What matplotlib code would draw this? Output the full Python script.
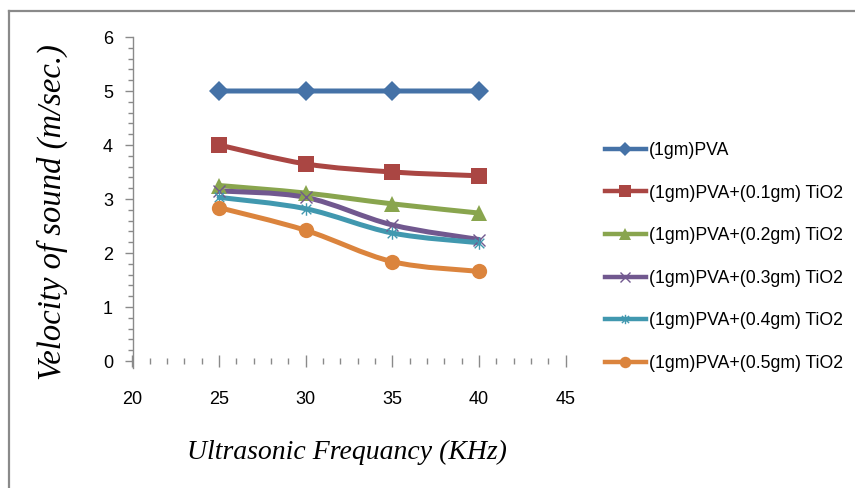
import matplotlib
matplotlib.use("Agg")
import matplotlib.pyplot as plt
from matplotlib.path import Path
from matplotlib.patches import PathPatch
from matplotlib.lines import Line2D
from matplotlib.ticker import MultipleLocator
import numpy as np

frequency = [25, 30, 35, 40]
pva = [5.0, 5.0, 5.0, 5.0]
tio2_01 = [4.0, 3.65, 3.5, 3.43]
tio2_02 = [3.25, 3.11, 2.91, 2.74]
tio2_03 = [3.15, 3.03, 2.52, 2.25]
tio2_04 = [3.03, 2.82, 2.37, 2.19]
tio2_05 = [2.84, 2.42, 1.84, 1.66]

labels = ["(1gm)PVA",
          "(1gm)PVA+(0.1gm) TiO2",
          "(1gm)PVA+(0.2gm) TiO2",
          "(1gm)PVA+(0.3gm) TiO2",
          "(1gm)PVA+(0.4gm) TiO2",
          "(1gm)PVA+(0.5gm) TiO2"]
series = [pva, tio2_01, tio2_02, tio2_03, tio2_04, tio2_05]
colors = ["#4572A7", "#AA4643", "#89A54E", "#71588F", "#4198AF", "#DB843D"]

# asterisk marker: x plus vertical stroke
star = Path([(-1, -1), (1, 1), (-1, 1), (1, -1), (0, -1.3), (0, 1.3)],
            [Path.MOVETO, Path.LINETO, Path.MOVETO, Path.LINETO, Path.MOVETO, Path.LINETO])
styles = [dict(marker="D", ms=10, mfc=None, mew=0),
          dict(marker="s", ms=11, mfc=None, mew=0),
          dict(marker="^", ms=11, mfc=None, mew=0),
          dict(marker="x", ms=9, mfc="none", mew=1.0),
          dict(marker=star, ms=9, mfc="none", mew=1.0),
          dict(marker="o", ms=11, mfc=None, mew=0)]

sans = ["Liberation Sans", "DejaVu Sans"]
serif = ["Liberation Serif", "DejaVu Serif"]


def smooth_path(xs, ys):
    # cubic Bezier through every point, Excel-style smoothing
    pts = np.column_stack([xs, ys]).astype(float)
    n = len(pts)
    verts = [pts[0]]
    codes = [Path.MOVETO]
    for i in range(n - 1):
        p0 = pts[i - 1] if i > 0 else pts[i]
        p1 = pts[i]
        p2 = pts[i + 1]
        p3 = pts[i + 2] if i + 2 < n else pts[i + 1]
        c1 = p1 + (p2 - p0) / 6.0
        c2 = p2 - (p3 - p1) / 6.0
        verts += [c1, c2, p2]
        codes += [Path.CURVE4] * 3
    return Path(verts, codes)


W, H = 855, 488
fig = plt.figure(figsize=(W / 100, H / 100), dpi=100)

# outer chart border (top and left edges)
fig.add_artist(Line2D([9 / W, 9 / W], [0, 1 - 11 / H], transform=fig.transFigure,
                      color="#8a8a8a", lw=1.6))
fig.add_artist(Line2D([9 / W, 1], [1 - 11 / H, 1 - 11 / H], transform=fig.transFigure,
                      color="#8a8a8a", lw=1.6))

ax = fig.add_axes([132.5 / W, (H - 361) / H, 433 / W, 324 / H])
ax.set_xlim(20, 45)
ax.set_ylim(0, 6)

handles = []
for vals, lab, col, st in zip(series, labels, colors, styles):
    ax.add_patch(PathPatch(smooth_path(frequency, vals), facecolor="none",
                           edgecolor=col, lw=3.6, capstyle="round", joinstyle="round"))
    mfc = col if st["mfc"] is None else st["mfc"]
    ax.plot(frequency, vals, linestyle="none", marker=st["marker"], ms=st["ms"],
            mfc=mfc, mec=col, mew=st["mew"])
    handles.append(Line2D([], [], color=col, lw=3.2, marker=st["marker"], ms=st["ms"],
                          mfc=mfc, mec=col, mew=st["mew"]))

for side in ["top", "right", "bottom"]:
    ax.spines[side].set_visible(False)
ax.spines["left"].set_color("#8a8a8a")
ax.spines["left"].set_linewidth(1.0)
ax.spines["left"].set_bounds(-0.13, 6)

ax.xaxis.set_major_locator(MultipleLocator(5))
ax.xaxis.set_minor_locator(MultipleLocator(1))
ax.yaxis.set_major_locator(MultipleLocator(1))
ax.yaxis.set_minor_locator(MultipleLocator(0.2))

ax.tick_params(axis="y", which="major", direction="out", length=6, width=1.0,
               color="#8a8a8a", pad=8)
ax.tick_params(axis="y", which="minor", direction="out", length=3.5, width=1.0,
               color="#8a8a8a")
ax.tick_params(axis="x", which="major", direction="inout", length=9, width=1.0,
               color="#8a8a8a", pad=17)
ax.tick_params(axis="x", which="minor", direction="inout", length=5, width=1.0,
               color="#8a8a8a")

for lab in ax.get_xticklabels() + ax.get_yticklabels():
    lab.set_fontfamily(sans)
    lab.set_fontsize(13)

fig.text(347 / W, 1 - 452 / H, "Ultrasonic Frequancy (KHz)", family=serif,
         style="italic", fontsize=20, ha="center", va="center")
fig.text(52 / W, 1 - 212 / H, "Velocity of sound (m/sec.)", family=serif,
         style="italic", fontsize=23.5, rotation=90, ha="center", va="center")

fig.legend(handles=handles, labels=labels, loc="upper left",
           bbox_to_anchor=(598 / W, 1 - 135 / H), frameon=False,
           prop={"family": sans, "size": 12.7}, handlelength=2.3,
           handletextpad=0.2, labelspacing=1.45, borderaxespad=0,
           markerscale=0.75)

fig.savefig("out.png", dpi=100)
